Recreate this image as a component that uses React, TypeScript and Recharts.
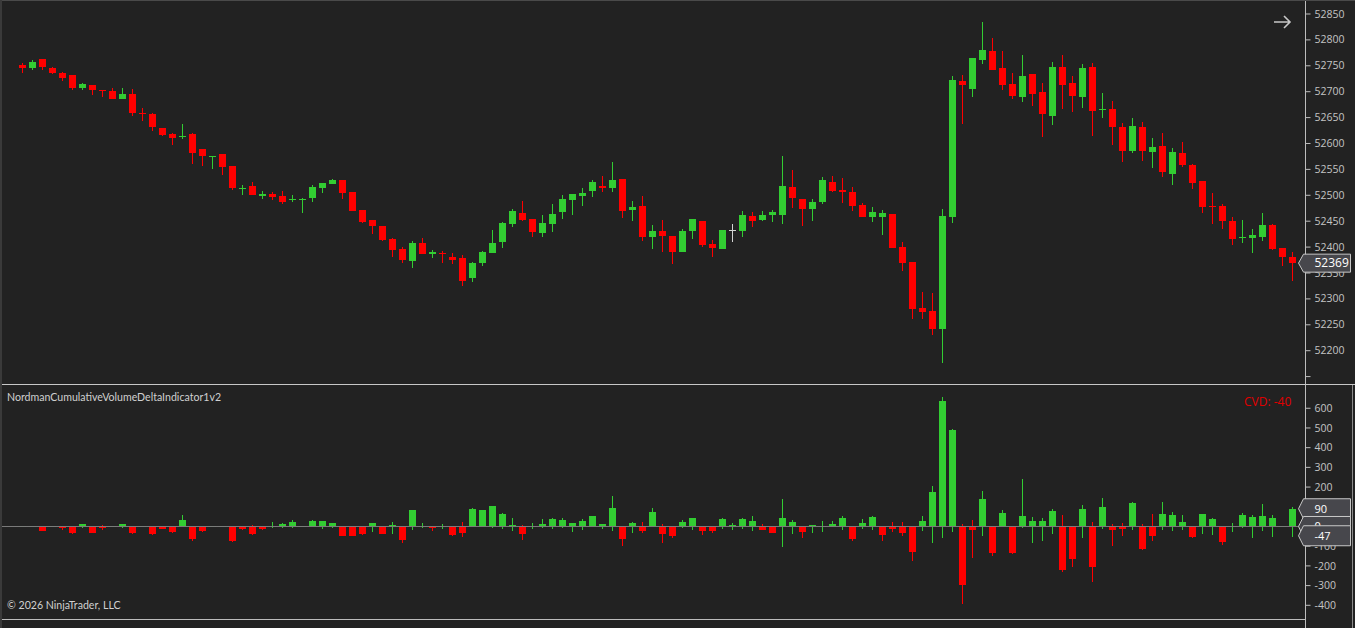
import React from 'react';
import { ComposedChart, Bar, XAxis, YAxis, ReferenceLine } from 'recharts';

// one candle per bar index
const categories = Array.from({ length: 128 }, (_, i) => i);

const priceOpen = [
  52752, 52746, 52763, 52746, 52736, 52732, 52708, 52713, 52703, 52701,
  52686, 52695, 52659, 52657, 52630, 52618, 52613, 52618, 52589, 52573,
  52580, 52556, 52513, 52518, 52499, 52502, 52499, 52490, 52490, 52495,
  52515, 52522, 52530, 52506, 52472, 52452, 52441, 52416, 52396, 52374,
  52408, 52387, 52389, 52381, 52379, 52341, 52370, 52389, 52409, 52445,
  52466, 52454, 52428, 52445, 52467, 52490, 52499, 52509, 52518, 52515,
  52532, 52472, 52479, 52420, 52431, 52421, 52391, 52432, 52450, 52406,
  52397, 52433, 52432, 52460, 52453, 52461, 52461, 52516, 52493, 52474,
  52488, 52526, 52510, 52506, 52481, 52459, 52459, 52464, 52400, 52371,
  52283, 52277, 52241, 52458, 52721, 52706, 52762, 52779, 52746, 52715,
  52690, 52734, 52699, 52654, 52748, 52717, 52690, 52748, 52664, 52667,
  52631, 52586, 52632, 52584, 52595, 52542, 52582, 52559, 52528, 52479,
  52479, 52451, 52418, 52418, 52420, 52443, 52399, 52380,
];

const priceHigh = [
  52755, 52761, 52763, 52747, 52738, 52732, 52717, 52713, 52703, 52707,
  52707, 52705, 52668, 52659, 52630, 52620, 52638, 52620, 52589, 52576,
  52580, 52556, 52520, 52526, 52508, 52506, 52508, 52501, 52495, 52520,
  52524, 52531, 52530, 52506, 52472, 52452, 52441, 52418, 52400, 52412,
  52418, 52394, 52392, 52389, 52385, 52371, 52393, 52433, 52448, 52474,
  52489, 52454, 52462, 52483, 52501, 52503, 52514, 52530, 52537, 52564,
  52532, 52489, 52499, 52443, 52452, 52421, 52435, 52454, 52450, 52414,
  52433, 52445, 52470, 52468, 52470, 52472, 52575, 52548, 52493, 52493,
  52535, 52537, 52533, 52516, 52485, 52477, 52472, 52464, 52410, 52371,
  52313, 52311, 52473, 52730, 52732, 52765, 52834, 52804, 52779, 52736,
  52771, 52734, 52717, 52757, 52771, 52730, 52753, 52755, 52697, 52682,
  52640, 52649, 52641, 52611, 52620, 52591, 52603, 52561, 52528, 52504,
  52483, 52459, 52453, 52434, 52466, 52445, 52399, 52391,
];

const priceLow = [
  52737, 52742, 52742, 52735, 52721, 52704, 52704, 52694, 52690, 52685,
  52686, 52654, 52644, 52625, 52615, 52598, 52609, 52561, 52557, 52551,
  52540, 52511, 52501, 52501, 52493, 52490, 52484, 52488, 52466, 52488,
  52505, 52522, 52493, 52470, 52447, 52426, 52412, 52380, 52370, 52360,
  52387, 52378, 52370, 52368, 52324, 52333, 52364, 52389, 52399, 52439,
  52451, 52420, 52420, 52430, 52455, 52461, 52480, 52497, 52507, 52507,
  52457, 52451, 52412, 52397, 52391, 52368, 52391, 52416, 52401, 52380,
  52397, 52409, 52420, 52438, 52451, 52449, 52445, 52476, 52441, 52451,
  52484, 52507, 52486, 52470, 52459, 52449, 52424, 52399, 52354, 52262,
  52262, 52230, 52176, 52447, 52638, 52690, 52754, 52741, 52704, 52685,
  52681, 52673, 52613, 52636, 52667, 52661, 52669, 52615, 52650, 52598,
  52565, 52582, 52567, 52553, 52536, 52520, 52555, 52513, 52466, 52445,
  52434, 52405, 52407, 52389, 52412, 52395, 52364, 52335,
];

const priceClose = [
  52746, 52757, 52748, 52737, 52727, 52708, 52715, 52704, 52702, 52686,
  52695, 52658, 52656, 52631, 52617, 52611, 52614, 52582, 52575, 52576,
  52555, 52515, 52514, 52501, 52503, 52497, 52488, 52493, 52493, 52516,
  52524, 52530, 52505, 52470, 52449, 52441, 52414, 52395, 52376, 52408,
  52387, 52390, 52387, 52376, 52335, 52369, 52391, 52408, 52447, 52470,
  52453, 52430, 52447, 52464, 52493, 52503, 52505, 52526, 52515, 52530,
  52470, 52477, 52420, 52431, 52422, 52391, 52431, 52454, 52405, 52399,
  52433, 52433, 52462, 52451, 52462, 52468, 52518, 52495, 52474, 52487,
  52530, 52509, 52507, 52480, 52459, 52468, 52466, 52399, 52370, 52281,
  52275, 52242, 52460, 52723, 52712, 52765, 52780, 52742, 52712, 52692,
  52730, 52696, 52656, 52748, 52712, 52692, 52746, 52663, 52667, 52631,
  52586, 52634, 52586, 52593, 52544, 52584, 52559, 52524, 52478, 52478,
  52451, 52416, 52420, 52423, 52443, 52397, 52381, 52369,
];

// volume delta per bar (bar opens at 0)
const deltaClose = [
  2, 2, -24, 2, -7, -34, 12, -34, -8, 2,
  12, -34, 2, -37, -14, -29, 32, -64, -24, 2,
  2, -74, -14, -37, -14, 2, 12, 22, 2, 27,
  27, 17, -47, -47, -37, 17, -37, 7, -68, 83,
  2, -8, 2, -44, -34, 88, 83, 103, 63, 7,
  -37, 2, 12, 37, 32, 17, 27, 52, 12, 93,
  -64, 17, -24, 73, -37, -47, 22, 42, -22, -22,
  37, 7, 37, 27, -17, -32, 42, 22, -27, 7,
  2, 12, 42, -63, 17, 47, -42, -12, -32, -129,
  27, 175, 636, 489, -296, -17, 139, -134, 68, -134,
  52, 27, 27, 78, -220, -164, 88, -205, 98, -17,
  -12, 118, -113, -47, 63, 58, 22, -52, 63, 37,
  -78, 2, 58, 47, 52, 42, 2, 88,
];

const deltaHigh = [
  2, 2, 0, 2, 0, 0, 12, 0, 7, 2,
  12, 0, 2, 0, 0, 0, 58, 0, 0, 2,
  2, 0, 0, 7, 0, 22, 17, 32, 2, 32,
  27, 17, 0, 0, 0, 17, 0, 22, 0, 83,
  17, 0, 12, 0, 22, 93, 83, 103, 68, 42,
  7, 17, 37, 42, 42, 17, 37, 52, 12, 154,
  0, 22, 22, 93, 12, 0, 32, 42, 0, 0,
  42, 17, 42, 52, 12, 0, 139, 32, 0, 7,
  27, 27, 52, 0, 37, 52, 0, 22, 22, 0,
  52, 205, 657, 494, 12, 32, 179, 0, 83, 0,
  240, 47, 42, 88, 58, 0, 108, 22, 144, 12,
  17, 124, 12, 63, 124, 73, 58, 0, 63, 42,
  0, 17, 68, 58, 113, 58, 2, 98,
];

const deltaLow = [
  0, 0, -24, 0, -17, -37, -7, -34, -17, 0,
  -8, -37, 0, -42, -14, -34, 0, -74, -29, 0,
  0, -78, -19, -42, -19, -8, -8, -8, 0, 0,
  -14, -8, -47, -47, -42, -27, -37, -37, -83, -17,
  -8, -22, -14, -49, -54, 0, 0, -8, -14, -24,
  -69, -14, -8, -14, -8, -29, -19, 0, -14, -24,
  -100, -34, -34, 0, -85, -58, -7, -17, -42, -32,
  -12, -17, -12, -22, -17, -32, -103, -37, -58, -32,
  -27, 0, -17, -73, -12, -17, -73, -27, -47, -174,
  -22, -83, -58, -27, -393, -159, -47, -149, 0, -139,
  -7, -83, -73, -37, -230, -205, -58, -281, -12, -98,
  -47, -17, -118, -73, -17, -22, -17, -58, -37, -42,
  -93, -27, -7, -58, -22, -52, 0, -52,
];

const priceTicks = [52150, 52200, 52250, 52300, 52350, 52400, 52450, 52500, 52550, 52600, 52650, 52700, 52750, 52800, 52850];
const deltaTicks = [-400, -300, -200, -100, 0, 100, 200, 300, 400, 500, 600];
const timeTicks = [4, 10, 16, 22, 28, 34, 40, 46, 52, 58, 64, 70, 76, 82, 88, 94, 100, 106, 112, 118, 124];

const lastPrice = 52369;
const deltaTags = [90, 0, -47];
const cvdText = 'CVD: -40';
const indicatorName = 'NordmanCumulativeVolumeDeltaIndicator1v2';
const copyright = '© 2026 NinjaTrader, LLC';

const BG = '#222222';
const GREEN = '#32cd32';
const RED = '#ff0000';
const DOJI = '#d3d3d3';
const AXIS = '#bdbdbd';
const LABEL = '#c4c4c4';
const FONT = '"Open Sans", "Noto Sans", sans-serif';
const TEXT_FONT = 'Lato, "Open Sans", sans-serif';

const priceRows = categories.map((i) => ({
  i,
  o: priceOpen[i],
  h: priceHigh[i],
  l: priceLow[i],
  c: priceClose[i],
  range: [priceLow[i], priceHigh[i]],
}));

const deltaRows = categories.map((i) => ({
  i,
  o: 0,
  h: deltaHigh[i],
  l: deltaLow[i],
  c: deltaClose[i],
  range: [deltaLow[i], deltaHigh[i]],
}));

const PRICE_DOMAIN = [52135.7, 52877];
const DELTA_DOMAIN = [-472, 718];
const xPadding = { left: 14.5, right: 9 };
const margin = { top: 0, right: 0, bottom: 0, left: 2 };

// draws wick + body inside the [low, high] bar that recharts laid out
function Candle(props: any) {
  const { x, y, width, height, payload } = props;
  if (!payload || height == null) return null;
  const { o, h, l, c } = payload;
  const span = h - l;
  const k = span > 0 ? height / span : 0;
  const yOf = (v: number) => y + (h - v) * k;
  const color = c > o ? GREEN : c < o ? RED : DOJI;
  const cx = x + width / 2;
  const top = yOf(Math.max(o, c));
  const bodyH = Math.max(1, yOf(Math.min(o, c)) - top);
  return (
    <g shapeRendering="crispEdges">
      <rect x={cx - 0.5} y={y} width={1} height={Math.max(1, height)} fill={color} />
      <rect x={x} y={top} width={width} height={bodyH} fill={color} />
    </g>
  );
}

function AxisTick(props: any) {
  const { x, y, payload } = props;
  if (payload.value === 52150) return <g />;
  return (
    <text x={x + 2} y={y} dy={3.6} fill={LABEL} fontSize={10.5} fontFamily={FONT} textAnchor="start">
      {payload.value}
    </text>
  );
}

function Tag({ viewBox, text, size, hh }: { viewBox: any; text: string; size: number; hh: number }) {
  if (!viewBox) return null;
  const yc = viewBox.y;
  const xl = viewBox.x + viewBox.width - 7;
  const xr = xl + 52;
  const pts = `${xl},${yc} ${xl + 5},${yc - hh} ${xr},${yc - hh} ${xr},${yc + hh} ${xl + 5},${yc + hh}`;
  return (
    <g>
      <polygon points={pts} fill="#47474c" stroke="#c8c8c8" strokeWidth={1} />
      <text x={xl + 16} y={yc + size * 0.36} fill="#ffffff" fontSize={size} fontFamily={FONT}>
        {text}
      </text>
    </g>
  );
}

export default function App() {
  return (
    <div
      style={{
        position: 'relative',
        width: 1355,
        height: 628,
        background: BG,
        overflow: 'hidden',
        fontFamily: FONT,
      }}
    >
      <style>{'body{margin:0;background:#222222;}'}</style>

      {/* price pane */}
      <div style={{ position: 'absolute', left: 0, top: 0 }}>
        <ComposedChart width={1355} height={384} data={priceRows} margin={margin}>
          <XAxis dataKey="i" hide padding={xPadding} />
          <YAxis
            orientation="right"
            width={49.5}
            type="number"
            domain={PRICE_DOMAIN}
            ticks={priceTicks}
            interval={0}
            allowDataOverflow
            tickSize={5}
            tickLine={{ stroke: AXIS }}
            axisLine={{ stroke: AXIS }}
            tick={AxisTick}
          />
          <Bar dataKey="range" barSize={7} shape={Candle} isAnimationActive={false} />
        </ComposedChart>
      </div>

      {/* price tag layer, kept above the axis labels */}
      <div style={{ position: 'absolute', left: 0, top: 0 }}>
        <ComposedChart width={1355} height={384} data={priceRows} margin={margin}>
          <XAxis dataKey="i" hide padding={xPadding} />
          <YAxis
            orientation="right"
            width={49.5}
            type="number"
            domain={PRICE_DOMAIN}
            allowDataOverflow
            tick={false}
            tickLine={false}
            axisLine={false}
          />
          <ReferenceLine
            y={lastPrice}
            stroke="none"
            label={(p: any) => <Tag viewBox={p.viewBox} text={String(lastPrice)} size={12} hh={9} />}
          />
        </ComposedChart>
      </div>

      <div style={{ position: 'absolute', left: 0, top: 384, width: 1355, height: 1, background: '#c8c8c8' }} />

      {/* delta pane */}
      <div style={{ position: 'absolute', left: 0, top: 385 }}>
        <ComposedChart width={1355} height={243} data={deltaRows} margin={margin}>
          <XAxis
            dataKey="i"
            height={8.5}
            padding={xPadding}
            ticks={timeTicks}
            interval={0}
            tick={false}
            tickSize={5}
            tickLine={{ stroke: AXIS }}
            axisLine={{ stroke: AXIS }}
          />
          <YAxis
            orientation="right"
            width={49.5}
            type="number"
            domain={DELTA_DOMAIN}
            ticks={deltaTicks}
            interval={0}
            allowDataOverflow
            tickSize={5}
            tickLine={{ stroke: AXIS }}
            axisLine={{ stroke: AXIS }}
            tick={AxisTick}
          />
          <ReferenceLine y={0} stroke="#7c7c7c" />
          <Bar dataKey="range" barSize={7} shape={Candle} isAnimationActive={false} />
        </ComposedChart>
      </div>

      <div style={{ position: 'absolute', left: 0, top: 385 }}>
        <ComposedChart width={1355} height={243} data={deltaRows} margin={margin}>
          <XAxis dataKey="i" height={8.5} padding={xPadding} tick={false} tickLine={false} axisLine={false} />
          <YAxis
            orientation="right"
            width={49.5}
            type="number"
            domain={DELTA_DOMAIN}
            allowDataOverflow
            tick={false}
            tickLine={false}
            axisLine={false}
          />
          {deltaTags.map((v) => (
            <ReferenceLine
              key={v}
              y={v}
              stroke="none"
              label={(p: any) => <Tag viewBox={p.viewBox} text={String(v)} size={11} hh={10} />}
            />
          ))}
        </ComposedChart>
      </div>

      <div style={{ position: 'absolute', left: 1305, top: 619, width: 1, height: 9, background: AXIS }} />
      <div style={{ position: 'absolute', left: 1352, top: 385, width: 1, height: 243, background: '#8a8a8a' }} />
      <div style={{ position: 'absolute', left: 0, top: 0, width: 1355, height: 1, background: '#4a4a4a' }} />
      <div style={{ position: 'absolute', left: 0, top: 0, width: 2, height: 628, background: '#3a3a3a' }} />

      <svg width={1355} height={628} style={{ position: 'absolute', left: 0, top: 0, pointerEvents: 'none' }}>
        <text x={7} y={400.5} fill="#d0d0d0" fontSize={10.6} fontFamily={TEXT_FONT}>
          {indicatorName}
        </text>
        <text x={7} y={608.5} fill="#d0d0d0" fontSize={10.6} fontFamily={TEXT_FONT}>
          {copyright}
        </text>
        <text x={1244} y={405.5} fill="#e00000" fontSize={12} fontFamily={FONT}>
          {cvdText}
        </text>
        <path d="M1274 22 H1290 M1284 16 L1290 22 L1284 28" stroke="#c8c8c8" strokeWidth={1.6} fill="none" />
      </svg>
    </div>
  );
}
